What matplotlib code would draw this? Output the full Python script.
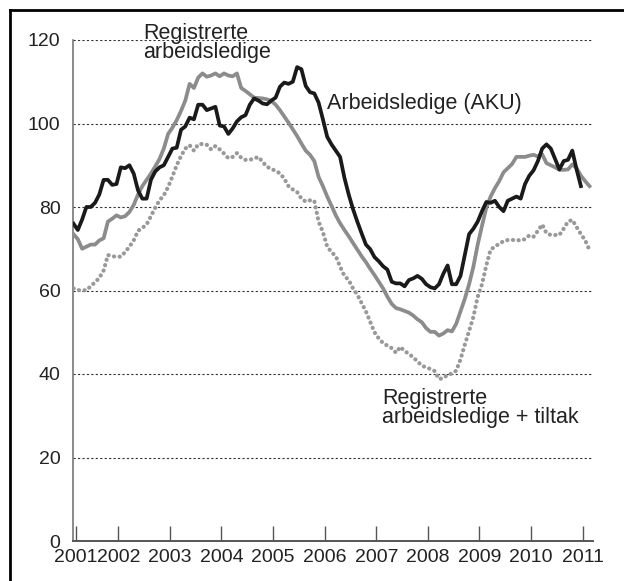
import numpy as np
import matplotlib.pyplot as plt
from matplotlib.lines import Line2D

plt.rcParams['font.family'] = ['Liberation Sans', 'DejaVu Sans']

# monthly values, first point at early 2001
aku = [76, 74.5, 77, 80, 80, 81, 83, 86.5, 86.5, 85.3, 85.5, 89.5,
       89.3, 90, 88, 84, 82, 82, 86.5, 88.5, 89.5, 90, 92, 94,
       94.2, 98.5, 99.3, 101.4, 101, 104.5, 104.5, 103.2, 103.6, 104, 99.5, 99.3,
       97.5, 98.8, 100.5, 101.5, 102, 104.5, 106, 105.5, 104.8, 104.6, 105.5, 106.2,
       108.8, 109.8, 109.5, 110, 113.5, 113, 109, 107.5, 107.2, 105, 101, 96.8,
       95, 93.5, 92, 87, 83, 79.5, 76.5, 73.7, 71, 69.9, 68, 67,
       65.8, 65, 62.1, 61.7, 61.7, 61, 62.5, 62.9, 63.5, 62.8, 61.5, 60.8,
       60.5, 61.5, 64, 66, 61.5, 61.5, 63.5, 68.5, 73.5, 74.8, 76.5, 79,
       81.2, 81, 81.5, 80, 79, 81.5, 82, 82.5, 82, 85.5, 87.5, 88.8,
       91, 94, 95, 94, 91.5, 89, 91, 91.3, 93.5, 89, 85]

reg = [73.5, 72.3, 70, 70.5, 71, 71, 72, 72.5, 76.5, 77.2, 78, 77.5,
       77.8, 78.8, 80.5, 83, 85, 86.5, 88, 89.7, 91.5, 94, 97.5, 99,
       100.8, 103, 105.5, 109.5, 108.5, 111, 112, 111.2, 111.5, 112, 111.3, 112,
       111.5, 111.3, 112, 108.5, 107.8, 107, 106.2, 106.1, 106, 105.8, 105.4, 104.5,
       103.2, 101.7, 100.2, 98.6, 97, 95.2, 93.5, 92.5, 91, 87.2, 85, 82.5,
       80.3, 78, 76.1, 74.5, 73, 71.4, 69.8, 68.2, 66.8, 65.2, 63.7, 62.1,
       60.5, 58.5, 56.8, 55.8, 55.5, 55.1, 54.7, 54, 53.1, 52.4, 51, 50.1,
       50.1, 49.2, 49.7, 50.5, 50.2, 52, 55, 58, 61.5, 65.7, 71, 75.5,
       79.8, 82.5, 84.5, 86.2, 88.3, 89.3, 90.3, 92, 92, 92, 92.3, 92.5,
       92.1, 92.6, 90.5, 90, 89.5, 88.9, 88.9, 89, 90.2, 89.3, 87.5, 86.2, 85]

tiltak = [60.5, 60.1, 60, 60.1, 61, 62, 63, 64.8, 68.5, 68.2, 68.1, 68.1,
          69.2, 70.5, 72, 74.3, 75, 75.8, 77.8, 79.8, 81.6, 82.8, 84.8, 87.3,
          90, 92.2, 94, 94.8, 93.5, 95, 95.1, 94.9, 93.8, 94.6, 93.8, 92.8,
          91.7, 92, 92.9, 91.8, 91.3, 91.3, 91.6, 92, 90.8, 89.6, 89.2, 88.6,
          88.1, 86.8, 85, 84.2, 83.6, 82, 81.3, 81.6, 81.5, 76.5, 74, 70.5,
          69.2, 68.2, 65.7, 63.5, 62.5, 60.5, 59, 57, 55, 52.5, 50, 48.5,
          47.4, 46.8, 46.2, 45.1, 46.5, 45.5, 44.8, 44, 43, 42, 41.6, 41.2,
          40.7, 38.8, 39, 39.8, 40.1, 40.8, 43.5, 47, 50.3, 53.7, 58.5, 61.5,
          66, 69.8, 70.5, 71.2, 71.8, 72.1, 72.1, 72.1, 72, 72.3, 73.2, 72.9,
          74.3, 75.8, 73.7, 73.3, 73.3, 73.3, 74.8, 76.5, 76.9, 75.2, 73.5, 72, 69.7]

year_ticks = [2001.175, 2002, 2003, 2004, 2005, 2006, 2007, 2008, 2009, 2010, 2011]
year_labels = ['2001', '2002', '2003', '2004', '2005', '2006',
               '2007', '2008', '2009', '2010', '2011']

t0 = 2001.132
x_aku = t0 + np.arange(len(aku)) / 12
x_reg = t0 + np.arange(len(reg)) / 12
x_tilt = t0 + np.arange(len(tiltak)) / 12

fig = plt.figure(figsize=(6.24, 5.81), dpi=100)
ax = fig.add_axes([73 / 624, 1 - 541 / 581, 520 / 624, 501 / 581])

ax.plot(x_tilt, tiltak, color='#999999', lw=3.0, linestyle=(0, (0.05, 1.3)),
        dash_capstyle='round', zorder=3)
ax.plot(x_reg, reg, color='#8c8c8c', lw=2.7, solid_joinstyle='round', zorder=4)
ax.plot(x_aku, aku, color='#1a1a1a', lw=2.7, solid_joinstyle='round', zorder=5)

ax.set_xlim(2001.122, 2011.2)
ax.set_ylim(0, 120)
ax.set_yticks([0, 20, 40, 60, 80, 100, 120])
ax.set_xticks(year_ticks)
ax.set_xticklabels(year_labels)
for v in [20, 40, 60, 80, 100, 120]:
    ax.axhline(v, color='#333333', lw=0.8, linestyle=(0, (2, 2)), zorder=1)

for s in ['top', 'right']:
    ax.spines[s].set_visible(False)
ax.spines['left'].set_color('#777777')
ax.spines['bottom'].set_color('#555555')
ax.spines['left'].set_linewidth(1.2)
ax.spines['bottom'].set_linewidth(1.4)
ax.tick_params(axis='y', length=0, pad=9, labelsize=14, labelcolor='#222222')
ax.tick_params(axis='x', direction='in', length=11, width=1, color='#555555',
               pad=6, labelsize=14, labelcolor='#222222')

ax.text(2002.48, 119.3, 'Registrerte\narbeidsledige', fontsize=15.5, color='#222222',
        va='center', ha='left', linespacing=0.9)
ax.text(2006.04, 104.8, 'Arbeidsledige (AKU)', fontsize=15.5, color='#222222',
        va='center', ha='left')
ax.text(2007.12, 31.8, 'Registrerte\narbeidsledige + tiltak', fontsize=15.5,
        color='#222222', va='center', ha='left', linespacing=0.9)

# frame around the figure (left and top edges show)
fig.add_artist(Line2D([10 / 624, 10 / 624], [0, 1 - 10 / 581], color='black',
                      lw=2, transform=fig.transFigure))
fig.add_artist(Line2D([10 / 624, 1], [1 - 10 / 581, 1 - 10 / 581], color='black',
                      lw=2, transform=fig.transFigure))

fig.savefig('out.png', dpi=100)
